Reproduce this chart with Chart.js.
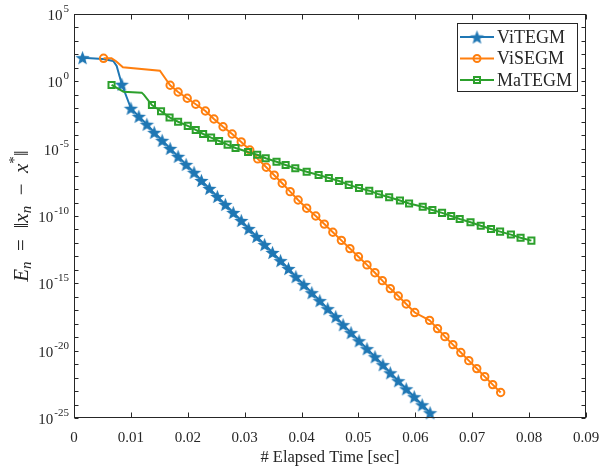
<!DOCTYPE html>
<html>
<head>
<meta charset="utf-8">
<script src="https://cdn.jsdelivr.net/npm/chart.js@4.4.1/dist/chart.umd.min.js"></script>
<style>
  html, body { margin: 0; padding: 0; background: #fff; }
  canvas { display: block; }
</style>
</head>
<body>
<canvas id="errChart" width="601" height="470"></canvas>
<script>
// values; errors kept as log10 exponents (the y axis is log)
var xTicks = [0, 0.01, 0.02, 0.03, 0.04, 0.05, 0.06, 0.07, 0.08, 0.09];
var yDecades = [5, 0, -5, -10, -15, -20, -25];
var seriesNames = ['ViTEGM', 'ViSEGM', 'MaTEGM'];

// ViTEGM - iterates shown with stars
var vitegmT = [0.0015, 0.0084, 0.0100, 0.0114, 0.0128, 0.0141, 0.0155, 0.0169, 0.0183, 0.0197,
  0.0211, 0.0224, 0.0238, 0.0252, 0.0266, 0.0280, 0.0294, 0.0307, 0.0321, 0.0335,
  0.0349, 0.0363, 0.0377, 0.0390, 0.0404, 0.0418, 0.0432, 0.0446, 0.0460, 0.0473,
  0.0487, 0.0501, 0.0515, 0.0529, 0.0543, 0.0556, 0.0570, 0.0584, 0.0598, 0.0612, 0.0626];
var vitegmE = [1.76, -0.22, -2.00, -2.60, -3.19, -3.79, -4.38, -4.98, -5.57, -6.17,
  -6.76, -7.36, -7.95, -8.55, -9.14, -9.74, -10.33, -10.93, -11.52, -12.12,
  -12.71, -13.31, -13.90, -14.50, -15.09, -15.69, -16.28, -16.88, -17.47, -18.07,
  -18.66, -19.26, -19.85, -20.45, -21.04, -21.64, -22.23, -22.83, -23.42, -24.02, -24.61];
// points of the curve between iterates (no marker)
var vitegmKnotT = [0.0051, 0.0069, 0.0075];
var vitegmKnotE = [1.66, 1.51, 1.14];

// ViSEGM - circles
var visegmT = [0.0052, 0.0169, 0.0183, 0.0199, 0.0214, 0.0231, 0.0246, 0.0262, 0.0278, 0.0294,
  0.0309, 0.0323, 0.0338, 0.0352, 0.0366, 0.0380, 0.0394, 0.0409, 0.0425, 0.0440,
  0.0455, 0.0470, 0.0485, 0.0500, 0.0515, 0.0529, 0.0542, 0.0556, 0.0570, 0.0584,
  0.0599, 0.0625, 0.0639, 0.0652, 0.0666, 0.0680, 0.0694, 0.0708, 0.0722, 0.0736, 0.0750];
var visegmE = [1.71, -0.29, -0.79, -1.26, -1.70, -2.20, -2.80, -3.37, -3.91, -4.50,
  -5.10, -5.76, -6.38, -6.97, -7.57, -8.19, -8.81, -9.42, -10.00, -10.60,
  -11.21, -11.81, -12.42, -13.03, -13.63, -14.21, -14.80, -15.39, -15.94, -16.53,
  -17.17, -17.75, -18.36, -18.96, -19.55, -20.14, -20.74, -21.33, -21.93, -22.52, -23.11];
var visegmKnotT = [0.0066, 0.0074, 0.0086, 0.0151, 0.0160];
var visegmKnotE = [1.71, 1.49, 1.04, 0.79, 0.25];

// MaTEGM - squares
var mategmT = [0.0066, 0.0137, 0.0153, 0.0168, 0.0183, 0.0200, 0.0214, 0.0227, 0.0241, 0.0255,
  0.0270, 0.0284, 0.0306, 0.0322, 0.0337, 0.0356, 0.0372, 0.0389, 0.0409, 0.0430,
  0.0448, 0.0466, 0.0483, 0.0501, 0.0519, 0.0536, 0.0554, 0.0573, 0.0589, 0.0613,
  0.0630, 0.0647, 0.0663, 0.0678, 0.0697, 0.0715, 0.0733, 0.0749, 0.0768, 0.0785, 0.0804];
var mategmE = [-0.27, -1.76, -2.22, -2.68, -3.00, -3.31, -3.61, -3.91, -4.18, -4.43,
  -4.70, -4.95, -5.25, -5.45, -5.71, -5.97, -6.21, -6.46, -6.72, -6.95,
  -7.18, -7.40, -7.69, -7.92, -8.12, -8.39, -8.61, -8.85, -9.07, -9.31,
  -9.55, -9.77, -10.00, -10.22, -10.46, -10.72, -10.96, -11.16, -11.38, -11.61, -11.83];
var mategmKnotT = [0.0087, 0.0119, 0.0123];
var mategmKnotE = [-0.77, -0.84, -1.00];

var BLUE = '#1f77b4', ORANGE = '#ff7f0e', GREEN = '#2ca02c';
var INK = '#262626';
var SERIF = '"Liberation Serif", "Times New Roman", serif';

function buildPoints(ts, es, knotT, knotE) {
    var pts = [];
    ts.forEach(function (t, i) { pts.push({ x: t, y: Math.pow(10, es[i]), knot: false }); });
    knotT.forEach(function (t, i) { pts.push({ x: t, y: Math.pow(10, knotE[i]), knot: true }); });
    pts.sort(function (a, b) { return a.x - b.x; });
    return pts;
}

// filled five-point star, used as point style
function makeStar(color, r) {
    var s = Math.ceil(2 * r + 2);
    var c = document.createElement('canvas');
    c.width = s; c.height = s;
    var g = c.getContext('2d');
    g.translate(s / 2, s / 2 + r * 0.1);
    g.beginPath();
    for (var i = 0; i < 10; i++) {
        var a = -Math.PI / 2 + i * Math.PI / 5;
        var rad = (i % 2) ? r * 0.42 : r;
        g.lineTo(rad * Math.cos(a), rad * Math.sin(a));
    }
    g.closePath();
    g.fillStyle = color;
    g.fill();
    return c;
}
var starImg = makeStar(BLUE, 7.5);

function markerRadius(r) {
    return function (ctx) { return ctx.raw && ctx.raw.knot ? 0 : r; };
}

// frame, inward ticks, y labels with exponents, y title, legend
var axesDecor = {
    id: 'axesDecor',
    afterDraw: function (chart) {
        var ctx = chart.ctx, a = chart.chartArea;
        var xs = chart.scales.x, ys = chart.scales.y;
        var L = Math.round(a.left) + 0.5, R = Math.round(a.right) - 0.5;
        var T = Math.round(a.top) + 0.5, B = Math.round(a.bottom) - 0.5;
        ctx.save();
        ctx.strokeStyle = INK;
        ctx.lineWidth = 1;
        ctx.strokeRect(L, T, R - L, B - T);

        ctx.beginPath();
        xTicks.forEach(function (v) {
            var px = Math.round(xs.getPixelForValue(v)) + 0.5;
            ctx.moveTo(px, B); ctx.lineTo(px, B - 5);
            ctx.moveTo(px, T); ctx.lineTo(px, T + 5);
        });
        for (var e = -25; e <= 5; e++) {
            var py = Math.round(ys.getPixelForValue(Math.pow(10, e))) + 0.5;
            ctx.moveTo(L, py); ctx.lineTo(L + 4, py);
            ctx.moveTo(R, py); ctx.lineTo(R - 4, py);
        }
        ctx.stroke();

        // y tick labels: 10^k
        ctx.fillStyle = INK;
        ctx.textBaseline = 'middle';
        yDecades.forEach(function (k) {
            var py = ys.getPixelForValue(Math.pow(10, k));
            var exp = String(k);
            ctx.font = '11px ' + SERIF;
            var we = ctx.measureText(exp).width;
            ctx.font = '15px ' + SERIF;
            var wb = ctx.measureText('10').width;
            var xEnd = a.left - 5;
            ctx.textAlign = 'left';
            ctx.fillText('10', xEnd - we - wb - 1, py + 2);
            ctx.font = '11px ' + SERIF;
            ctx.fillText(exp, xEnd - we, py - 5);
        });

        // y title: E_n = ||x_n - x^*||
        var parts = [
            { t: 'E', f: 'italic 21px', dy: 0 },
            { t: 'n', f: 'italic 15px', dy: 5 },
            { t: '  =  ', f: '21px', dy: 0 },
            { t: '\u2016', f: '21px', dy: 0 },
            { t: 'x', f: 'italic 21px', dy: 0 },
            { t: 'n', f: 'italic 15px', dy: 5 },
            { t: '  \u2212  ', f: '21px', dy: 0 },
            { t: 'x', f: 'italic 21px', dy: 0 },
            { t: '*', f: '15px', dy: -7 },
            { t: '\u2016', f: '21px', dy: 0 }
        ];
        var total = 0;
        parts.forEach(function (p) { ctx.font = p.f + ' ' + SERIF; p.w = ctx.measureText(p.t).width; total += p.w; });
        ctx.save();
        ctx.translate(22, (a.top + a.bottom) / 2);
        ctx.rotate(-Math.PI / 2);
        ctx.textAlign = 'left';
        ctx.textBaseline = 'middle';
        var cx = -total / 2;
        parts.forEach(function (p) {
            ctx.font = p.f + ' ' + SERIF;
            ctx.fillText(p.t, cx, p.dy);
            cx += p.w;
        });
        ctx.restore();

        // legend
        var bx = 457.5, by = 23.5, bw = 120, bh = 68;
        ctx.fillStyle = '#fff';
        ctx.fillRect(bx, by, bw, bh);
        ctx.strokeStyle = INK;
        ctx.lineWidth = 1;
        ctx.strokeRect(bx, by, bw, bh);
        var rowsY = [37, 58.5, 80];
        chart.data.datasets.forEach(function (ds, i) {
            var y = rowsY[i];
            ctx.strokeStyle = ds.borderColor;
            ctx.lineWidth = 2;
            ctx.beginPath();
            ctx.moveTo(460, y); ctx.lineTo(494, y);
            ctx.stroke();
            var mx = 477;
            if (i === 0) {
                ctx.drawImage(starImg, mx - starImg.width / 2, y - starImg.height / 2);
            } else if (i === 1) {
                ctx.beginPath();
                ctx.arc(mx, y, 3.5, 0, Math.PI * 2);
                ctx.stroke();
            } else {
                ctx.strokeRect(mx - 3, y - 3, 6, 6);
            }
            ctx.fillStyle = INK;
            ctx.font = '18px ' + SERIF;
            ctx.textAlign = 'left';
            ctx.textBaseline = 'middle';
            ctx.fillText(ds.label, 497, y + 1);
        });
        ctx.restore();
    }
};

new Chart(document.getElementById('errChart'), {
    type: 'line',
    data: {
        datasets: [{
            label: seriesNames[0],
            data: buildPoints(vitegmT, vitegmE, vitegmKnotT, vitegmKnotE),
            borderColor: BLUE,
            backgroundColor: BLUE,
            borderWidth: 2,
            pointStyle: starImg,
            pointRadius: markerRadius(6),
            order: 3,
            clip: false
        }, {
            label: seriesNames[1],
            data: buildPoints(visegmT, visegmE, visegmKnotT, visegmKnotE),
            borderColor: ORANGE,
            backgroundColor: 'rgba(0,0,0,0)',
            borderWidth: 2,
            pointStyle: 'circle',
            pointRadius: markerRadius(3.7),
            pointBorderWidth: 2,
            order: 2,
            clip: false
        }, {
            label: seriesNames[2],
            data: buildPoints(mategmT, mategmE, mategmKnotT, mategmKnotE),
            borderColor: GREEN,
            backgroundColor: 'rgba(0,0,0,0)',
            borderWidth: 2,
            pointStyle: 'rect',
            pointRadius: markerRadius(4.3),
            pointBorderWidth: 2,
            order: 1,
            clip: false
        }]
    },
    options: {
        responsive: false,
        animation: false,
        tension: 0,
        layout: { padding: { left: 0, top: 14, right: 15, bottom: 0 } },
        plugins: {
            legend: { display: false },
            tooltip: { enabled: false }
        },
        scales: {
            x: {
                type: 'linear',
                min: 0,
                max: 0.09,
                afterFit: function (s) {
                    s.height = 52;
                    s.paddingLeft = 0;
                    s.paddingRight = 0;
                },
                afterBuildTicks: function (s) { s.ticks = xTicks.map(function (v) { return { value: v }; }); },
                grid: { display: false, drawTicks: false },
                border: { display: false },
                ticks: {
                    padding: 11,
                    color: INK,
                    font: { family: SERIF, size: 15 },
                    maxRotation: 0,
                    callback: function (v) { return String(Math.round(v * 100) / 100); }
                },
                title: {
                    display: true,
                    text: '# Elapsed Time [sec]',
                    color: INK,
                    font: { family: SERIF, size: 16.5 },
                    padding: { top: 0, bottom: 2 }
                }
            },
            y: {
                type: 'logarithmic',
                min: 1e-25,
                max: 1e5,
                afterFit: function (s) {
                    s.width = 74;
                    s.paddingTop = 0;
                    s.paddingBottom = 0;
                },
                afterBuildTicks: function (s) {
                    s.ticks = yDecades.map(function (k) { return { value: Math.pow(10, k) }; });
                },
                grid: { display: false, drawTicks: false },
                border: { display: false },
                ticks: { display: false }
            }
        }
    },
    plugins: [axesDecor]
});
</script>
</body>
</html>
